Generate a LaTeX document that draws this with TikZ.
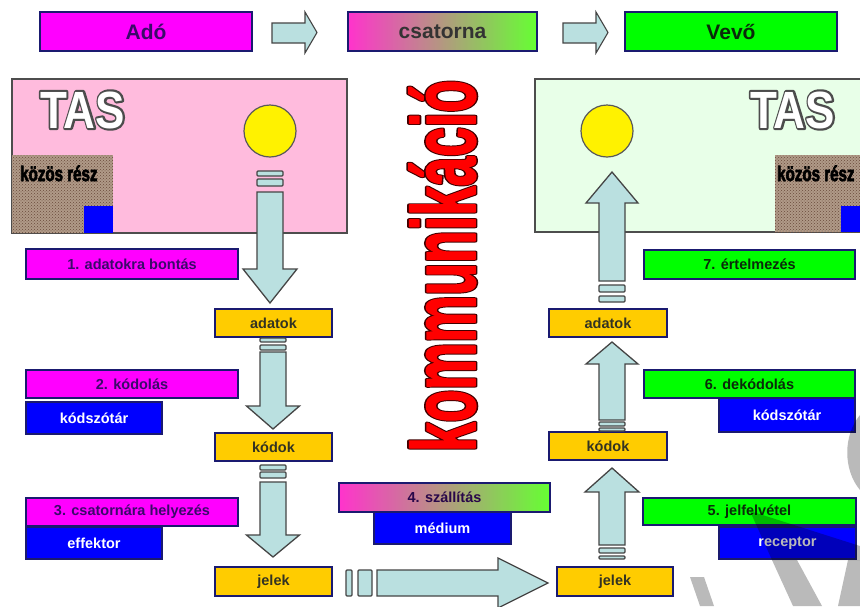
\documentclass[tikz,border=0pt]{standalone}
\usepackage{fontspec}
\setmainfont{Liberation Sans}
\usetikzlibrary{patterns}
\definecolor{navy}{HTML}{1A1A70}
\definecolor{mag}{HTML}{FF00FF}
\definecolor{grn}{HTML}{00FF00}
\definecolor{blu}{HTML}{0000FF}
\definecolor{org}{HTML}{FFCC00}
\definecolor{pinkbg}{HTML}{FFBBDD}
\definecolor{mintbg}{HTML}{E8FFE8}
\definecolor{arrfill}{HTML}{BAE0E0}
\definecolor{arrline}{HTML}{454545}
\definecolor{purptext}{HTML}{3A0A6A}
\definecolor{grntext}{HTML}{0A2A0A}
\definecolor{orgtext}{HTML}{333322}
\definecolor{brownbg}{HTML}{B09A88}
\definecolor{browndot}{HTML}{6A4A3A}
\definecolor{tasline}{HTML}{4D4D4D}
\definecolor{gradmag}{HTML}{FF33CC}
\definecolor{gradmid}{HTML}{C89A9A}
\definecolor{gradgrn}{HTML}{66FF33}
\definecolor{redtxt}{HTML}{FF0000}
\definecolor{redline}{HTML}{400000}

% box macro: name, x1, y1, x2, y2, style, text
\newcommand\bx[7]{\node[#6, minimum width={(#4)-(#2)}, minimum height={(#5)-(#3)}] (#1) at ({((#2)+(#4))/2},{((#3)+(#5))/2}) {#7};}
% vertical block arrow: xc, shaft end, head base, tip, shaft half, head half
\newcommand\varr[6]{\draw[blockarrow] ({#1-#5},#2) -- ({#1+#5},#2) -- ({#1+#5},#3) -- ({#1+#6},#3) -- (#1,#4) -- ({#1-#6},#3) -- ({#1-#5},#3) -- cycle;}
% stripe: xc, y1, y2, half
\newcommand\vstripe[4]{\draw[stripe] ({#1-#4},#2) rectangle ({#1+#4},#3);}
% text filled and stroked: stroke width, stroke rgb, text
\newcommand\trtext[3]{\special{pdf:code #1 w #2 RG 1 j 2 Tr}#3\special{pdf:code 0 Tr}}
\newcommand\tasword{\bfseries\fontsize{44}{44}\selectfont TAS}
\newcommand\kommword{\bfseries\fontsize{90}{90}\selectfont kommunikáció}

\begin{document}
\begin{tikzpicture}[x=1pt,y=-1pt,
  box/.style={draw=navy, line width=1.6pt, inner sep=0pt, font=\bfseries\fontsize{14.5}{16}\selectfont},
  magbox/.style={box, fill=mag, text=purptext},
  grnbox/.style={box, fill=grn, text=grntext},
  blubox/.style={box, fill=blu, text=white},
  orgbox/.style={box, fill=org, text=orgtext},
  topbox/.style={box, line width=2.2pt, font=\bfseries\fontsize{21}{24}\selectfont},
  gradbox/.style={left color=gradmag, middle color=gradmid, right color=gradgrn},
  blockarrow/.style={draw=arrline, fill=arrfill, line width=1.3pt, line join=miter},
  stripe/.style={draw=arrline, fill=arrfill, line width=1.1pt, rounded corners=1pt},
  tasbox/.style={draw=tasline, line width=1.2pt},
  tastext/.style={inner sep=0pt, anchor=base west},
  koztext/.style={inner sep=0pt, anchor=base west},
  wm/.style={fill=black, opacity=0.27}
]
\path[use as bounding box] (0,0) rectangle (860,606);
\clip (0,0) rectangle (860,606);
\fill[white] (0,0) rectangle (860,606);

% ---------- top row ----------
\bx{ado}{40}{12}{252}{51}{topbox, fill=mag, text=purptext}{Adó}
\bx{csat}{348}{12}{537}{51}{topbox, gradbox, text=black!80}{csatorna}
\bx{vevo}{625}{12}{837}{51}{topbox, fill=grn, text=grntext}{Vevő}
\draw[blockarrow, line width=1.1pt] (272,23) -- (305,23) -- (305,12) -- (317,32.5) -- (305,53) -- (305,43) -- (272,43) -- cycle;
\draw[blockarrow, line width=1.1pt] (563,23) -- (596,23) -- (596,12) -- (608,32.5) -- (596,53) -- (596,43) -- (563,43) -- cycle;

% ---------- left TAS ----------
\draw[tasbox, fill=pinkbg] (12,79) rectangle (347,233);
\fill[brownbg] (12,155) rectangle (113,233);
\fill[pattern=crosshatch dots, pattern color=browndot] (12,155) rectangle (113,233);
\fill[blu] (84,206) rectangle (113,233);
\node[circle, draw=black!65, line width=1.2pt, fill=yellow, minimum size=52pt, inner sep=0pt] (sunL) at (270,131) {};
\node[tastext, text=tasline] (tasLo) at (40,128) {\scalebox{1}[1.19]{\trtext{3.6}{0.3 0.3 0.3}{\tasword}}};
\node[tastext, text=white] (tasL) at (40,128) {\scalebox{1}[1.19]{\tasword}};
\node[koztext] (kozL) at (20,181) {\scalebox{0.72}[1]{\bfseries\fontsize{21}{21}\selectfont\trtext{0.8}{0 0 0}{közös rész}}};

% ---------- right TAS ----------
\draw[tasbox, fill=mintbg] (535,79) rectangle (880,232);
\fill[brownbg] (775,155) rectangle (880,232);
\fill[pattern=crosshatch dots, pattern color=browndot] (775,155) rectangle (880,232);
\fill[blu] (841,206) rectangle (880,232);
\node[circle, draw=black!65, line width=1.2pt, fill=yellow, minimum size=52pt, inner sep=0pt] (sunR) at (607,131) {};
\node[tastext, text=tasline] (tasRo) at (750,128) {\scalebox{1}[1.19]{\trtext{3.6}{0.3 0.3 0.3}{\tasword}}};
\node[tastext, text=white] (tasR) at (750,128) {\scalebox{1}[1.19]{\tasword}};
\node[koztext] (kozR) at (777,181) {\scalebox{0.72}[1]{\bfseries\fontsize{21}{21}\selectfont\trtext{0.8}{0 0 0}{közös rész}}};

% ---------- kommunikáció ----------
\node[inner sep=0pt, anchor=south east, text=redline] (kommo) at (476,452) {\rotatebox{90}{\scalebox{0.59}[1]{\trtext{5}{0.25 0 0}{\kommword}}}};
\node[inner sep=0pt, anchor=south east, text=redtxt] (komm) at (476,452) {\rotatebox{90}{\scalebox{0.59}[1]{\trtext{1.8}{1 0 0}{\kommword}}}};

% ---------- left column ----------
\vstripe{270}{171}{176}{13}
\vstripe{270}{179}{186}{13}
\varr{270}{192}{269}{303}{13}{27}
\bx{lab1}{26}{249}{238}{279}{magbox}{1. adatokra bontás}
\bx{adatL}{215}{309}{332}{337}{orgbox}{adatok}
\vstripe{273}{338}{342}{13}
\vstripe{273}{345}{350}{13}
\varr{273}{352}{406}{429}{13}{26.5}
\bx{kszL}{26}{402}{162}{434}{blubox}{kódszótár}
\bx{lab2}{26}{370}{238}{398}{magbox}{2. kódolás}
\bx{kodL}{215}{433}{332}{461}{orgbox}{kódok}
\vstripe{273}{465}{470}{13}
\vstripe{273}{472}{478}{13}
\varr{273}{482}{535}{557}{13}{26.5}
\bx{eff}{26}{527}{162}{559}{blubox}{effektor}
\bx{lab3}{26}{498}{238}{526}{magbox}{3. csatornára helyezés}
\bx{jelL}{215}{567}{332}{596}{orgbox}{jelek}

% ---------- channel ----------
\bx{med}{374}{512}{511}{544}{blubox}{médium}
\bx{lab4}{339}{483}{550}{512}{box, gradbox, text=purptext!70!black}{4. szállítás}
\draw[stripe] (346,570) rectangle (352,596);
\draw[stripe] (358,570) rectangle (372,596);
\draw[blockarrow] (377,570) -- (498,570) -- (498,558) -- (548,583) -- (498,608) -- (498,596) -- (377,596) -- cycle;

% ---------- right column ----------
\bx{jelR}{557}{567}{673}{596}{orgbox}{jelek}
\vstripe{612}{548}{553}{13}
\vstripe{612}{556}{559}{13}
\varr{612}{545}{492}{468}{13}{27}
\bx{rec}{719}{527}{856}{559}{blubox}{receptor}
\bx{lab5}{643}{498}{856}{525}{grnbox}{5. jelfelvétel}
\bx{kodR}{549}{432}{667}{460}{orgbox}{kódok}
\vstripe{612}{422}{426}{13}
\vstripe{612}{428}{431}{13}
\varr{612}{420}{364}{342}{13}{26}
\bx{kszR}{719}{398}{855}{432}{blubox}{kódszótár}
\bx{lab6}{644}{370}{855}{398}{grnbox}{6. dekódolás}
\bx{adatR}{549}{309}{667}{337}{orgbox}{adatok}
\vstripe{612}{285}{292}{13}
\vstripe{612}{296}{302}{13}
\varr{612}{281}{203}{172}{13}{26}
\bx{lab7}{644}{250}{855}{279}{grnbox}{7. értelmezés}

% ---------- watermark ----------
\fill[wm] (690,577) -- (704,577) -- (714,606) -- (700,606) -- cycle;
\fill[wm] (750,511) -- (860,546) -- (860,560) -- (772,560) -- cycle;
\fill[wm] (772,560) -- (797,560) -- (822,606) -- (793,606) -- cycle;
\fill[wm] (848,560) -- (860,560) -- (860,606) -- (838,606) -- cycle;
\fill[wm] (860,415) .. controls (843,435) and (843,470) .. (860,490) -- cycle;
\end{tikzpicture}
\end{document}
